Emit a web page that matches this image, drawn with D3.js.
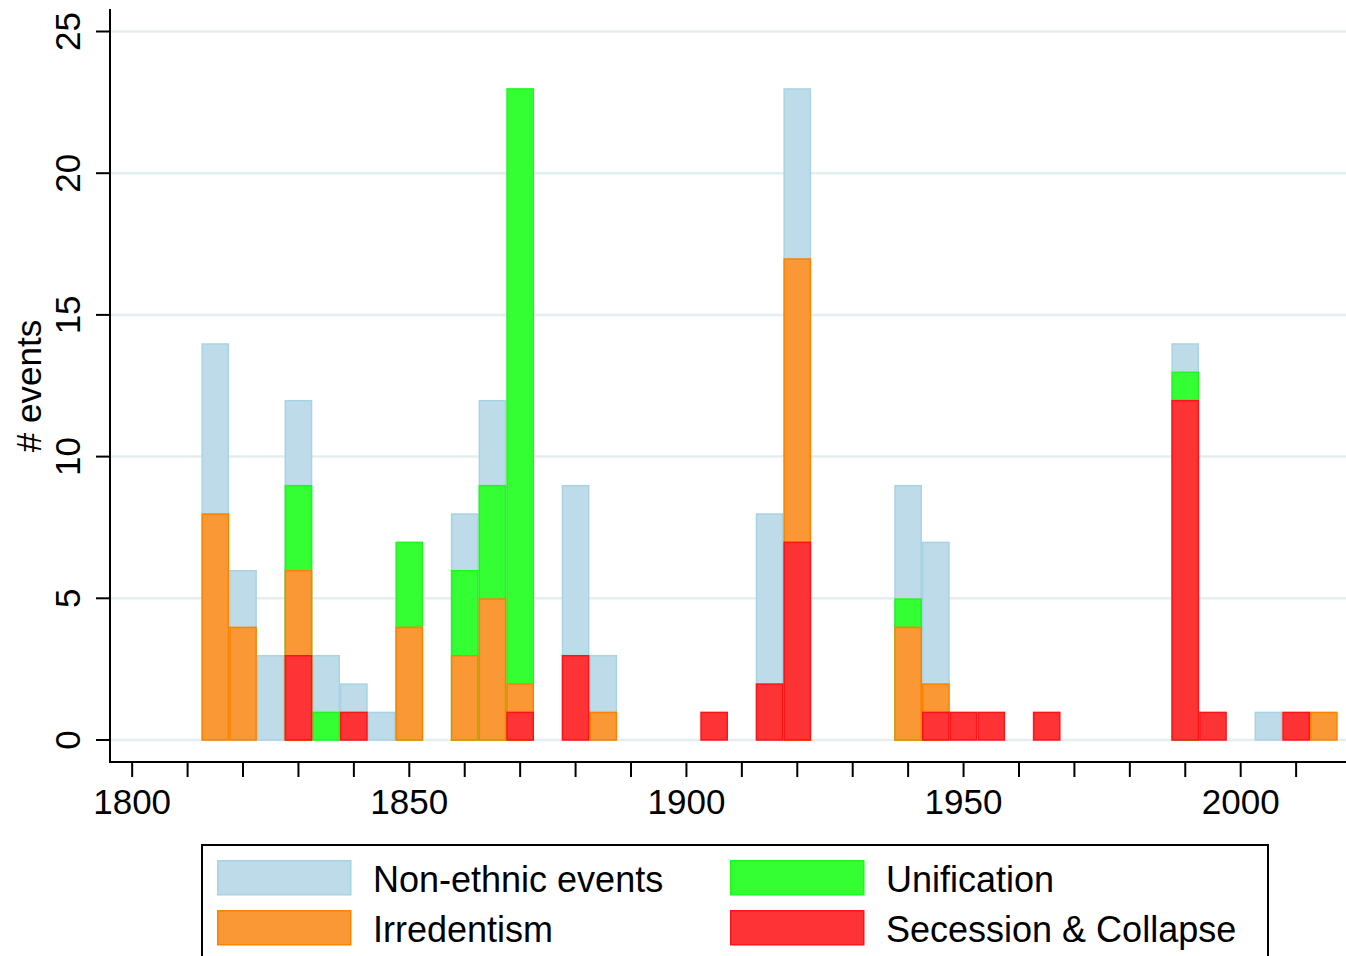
<!DOCTYPE html>
<html>
<head>
<meta charset="utf-8">
<script src="https://cdn.jsdelivr.net/npm/d3@7"></script>
<style>
  body { margin: 0; background: #fff; }
  text { font-family: "Liberation Sans", Arial, Helvetica, sans-serif; fill: #000; }
</style>
</head>
<body>
<svg width="1346" height="956"></svg>
<script>
// 5-year bins (centre year) and counts per category
var binYears    = [1815,1820,1825,1830,1835,1840,1845,1850,1860,1865,1870,1880,1885,1905,1915,1920,1940,1945,1950,1955,1965,1990,1995,2005,2010,2015];
var secession   = [0,   0,   0,   3,   0,   1,   0,   0,   0,   0,   1,   3,   0,   1,   2,   7,   0,   1,   1,   1,   1,   12,  1,   0,   1,   0];
var irredentism = [8,   4,   0,   3,   0,   0,   0,   4,   3,   5,   1,   0,   1,   0,   0,   10,  4,   1,   0,   0,   0,   0,   0,   0,   0,   1];
var unification = [0,   0,   0,   3,   1,   0,   0,   3,   3,   4,   21,  0,   0,   0,   0,   0,   1,   0,   0,   0,   0,   1,   0,   0,   0,   0];
var nonEthnic   = [6,   2,   3,   3,   2,   1,   1,   0,   2,   3,   0,   6,   2,   0,   6,   6,   4,   5,   0,   0,   0,   1,   0,   1,   0,   0];

var yTicks = [0, 5, 10, 15, 20, 25];
var xLabels = [1800, 1850, 1900, 1950, 2000];

// stack order bottom -> top
var keys = ["secession", "irredentism", "unification", "nonEthnic"];
var fills   = { nonEthnic: "#bddbe9", unification: "#33ff33", irredentism: "#f99834", secession: "#fd3336" };
var strokes = { nonEthnic: "#a8d3e2", unification: "#1df81d", irredentism: "#fb8300", secession: "#fd1418" };
var labels  = { nonEthnic: "Non-ethnic events", unification: "Unification", irredentism: "Irredentism", secession: "Secession & Collapse" };

var rows = binYears.map(function(yr, i) {
  return { year: yr, secession: secession[i], irredentism: irredentism[i], unification: unification[i], nonEthnic: nonEthnic[i] };
});
var stacked = d3.stack().keys(keys)(rows);

var svg = d3.select("svg");

var x = d3.scaleLinear().domain([1796, 2019]).range([110, 1346]);
var y = d3.scaleLinear().domain([0, 25]).range([740, 31.5]);

// gridlines
svg.append("g").selectAll("line").data(yTicks).enter().append("line")
  .attr("x1", 111).attr("x2", 1346)
  .attr("y1", function(d){ return y(d) }).attr("y2", function(d){ return y(d) })
  .attr("stroke", "#e4edf0").attr("stroke-width", 2.5);

// bars: each layer drawn from zero up to its cumulative top, back to front
var drawOrder = stacked.slice().reverse();
svg.append("g").selectAll("g").data(drawOrder).enter().append("g")
  .each(function(layer) {
    d3.select(this).selectAll("rect")
      .data(layer.filter(function(d){ return d.data[layer.key] > 0 }))
      .enter().append("rect")
      .attr("x", function(d){ return x(d.data.year - 2.5) + 0.75 })
      .attr("width", function(d){ return x(d.data.year + 2.5) - x(d.data.year - 2.5) - 1.5 })
      .attr("y", function(d){ return y(d[1]) + 0.75 })
      .attr("height", function(d){ return y(0) - y(d[1]) - 0.75 })
      .attr("fill", fills[layer.key])
      .attr("stroke", strokes[layer.key])
      .attr("stroke-width", 1.5);
  });

// y axis
var yAxis = svg.append("g");
yAxis.append("line").attr("x1", 110).attr("x2", 110).attr("y1", 9).attr("y2", 763)
  .attr("stroke", "#000").attr("stroke-width", 2);
yAxis.selectAll(".tk").data(yTicks).enter().append("line")
  .attr("x1", 96).attr("x2", 110)
  .attr("y1", function(d){ return y(d) }).attr("y2", function(d){ return y(d) })
  .attr("stroke", "#000").attr("stroke-width", 2);
yAxis.selectAll("text").data(yTicks).enter().append("text")
  .attr("transform", function(d){ return "translate(80," + y(d) + ") rotate(-90)" })
  .attr("text-anchor", "middle")
  .style("font-size", "35px")
  .text(function(d){ return d });

svg.append("text")
  .attr("transform", "translate(41,386) rotate(-90)")
  .attr("text-anchor", "middle")
  .style("font-size", "35px")
  .text("# events");

// x axis
var xAxis = svg.append("g");
xAxis.append("line").attr("x1", 109).attr("x2", 1346).attr("y1", 762).attr("y2", 762)
  .attr("stroke", "#000").attr("stroke-width", 2);
xAxis.selectAll(".tk").data(d3.range(1800, 2011, 10)).enter().append("line")
  .attr("x1", function(d){ return x(d) }).attr("x2", function(d){ return x(d) })
  .attr("y1", 762).attr("y2", 777)
  .attr("stroke", "#000").attr("stroke-width", 2);
xAxis.selectAll("text").data(xLabels).enter().append("text")
  .attr("x", function(d){ return x(d) }).attr("y", 814)
  .attr("text-anchor", "middle")
  .style("font-size", "35px")
  .text(function(d){ return d });

// legend
var legend = svg.append("g");
legend.append("rect").attr("x", 202).attr("y", 845).attr("width", 1066).attr("height", 130)
  .attr("fill", "#fff").attr("stroke", "#000").attr("stroke-width", 2);

var legendItems = [
  { key: "nonEthnic", col: 0, row: 0 },
  { key: "unification", col: 1, row: 0 },
  { key: "irredentism", col: 0, row: 1 },
  { key: "secession", col: 1, row: 1 }
];
var item = legend.selectAll(".item").data(legendItems).enter().append("g")
  .attr("transform", function(d){ return "translate(" + (217 + d.col * 513) + "," + (860 + d.row * 50) + ")" });
item.append("rect")
  .attr("x", 0.75).attr("y", 0.75).attr("width", 133).attr("height", 34)
  .attr("fill", function(d){ return fills[d.key] })
  .attr("stroke", function(d){ return strokes[d.key] })
  .attr("stroke-width", 1.5);
item.append("text")
  .attr("x", 156).attr("y", 32)
  .style("font-size", "36px")
  .text(function(d){ return labels[d.key] });
</script>
</body>
</html>
